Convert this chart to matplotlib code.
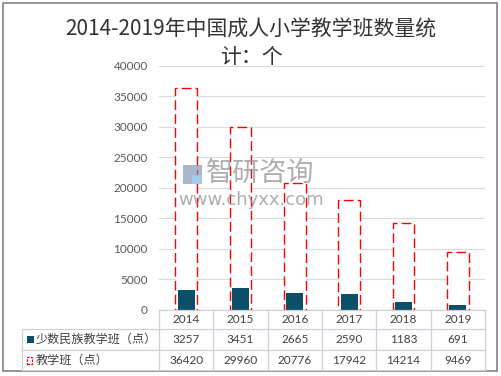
import matplotlib
matplotlib.use("Agg")
import matplotlib.pyplot as plt
from matplotlib.lines import Line2D
from matplotlib.patches import Rectangle

plt.rcParams['font.family'] = ['Noto Sans CJK SC', 'DejaVu Sans']

years = ['2014', '2015', '2016', '2017', '2018', '2019']
minority = [3257, 3451, 2665, 2590, 1183, 691]
classes = [36420, 29960, 20776, 17942, 14214, 9469]
series_names = ['少数民族教学班（点）', '教学班（点）']
title_lines = ['2014-2019年中国成人小学教学班数量统', '计：个']
yticks = [0, 5000, 10000, 15000, 20000, 25000, 30000, 35000, 40000]

W, H = 502, 376
fig = plt.figure(figsize=(W / 100, H / 100), dpi=100)


def fx(x):
    return x / W


def fy(y):
    return 1 - y / H


dark = '#0B5069'
red = '#FF0000'
grid = '#D9D9D9'
tcol = '#D0CFD8'
txt = '#404040'

# outer frame
fig.add_artist(Rectangle((fx(3), fy(371)), fx(494), 368 / H, transform=fig.transFigure,
                         fill=False, edgecolor='#808080', linewidth=1.2))

L, R, T, B = 159, 485, 66, 309.5
ax = fig.add_axes([fx(L), fy(B), fx(R - L), (B - T) / H])
x = list(range(len(years)))
ax.bar(x, classes, width=0.40, facecolor='white', edgecolor=red, linewidth=1.0,
       linestyle=(0, (7, 3)), zorder=2)
ax.bar(x, minority, width=0.31, color=dark, zorder=3)
ax.set_xlim(-0.5, len(years) - 0.5)
ax.set_ylim(0, 40000)
ax.set_yticks(yticks)
ax.set_yticklabels([str(v) for v in yticks], fontsize=8.5, color='#595959',
                   family=['Lato', 'DejaVu Sans'])
ax.tick_params(axis='y', length=0, pad=8)
ax.set_xticks([])
ax.yaxis.grid(True, color=grid, linewidth=0.8)
ax.set_axisbelow(True)
for s in ax.spines.values():
    s.set_visible(False)

# title (two lines)
fig.text(0.5, fy(30), title_lines[0], ha='center', va='center', fontsize=15, color='#333333')
fig.text(0.5, fy(57), title_lines[1], ha='center', va='center', fontsize=15, color='#333333')

# watermark
wm = '#8a8a8a'
fig.text(fx(260), fy(173), '智研咨询', ha='center', va='center', fontsize=19.5,
         color=wm, alpha=0.7)
fig.text(fx(251), fy(200), 'www.chyxx.com', ha='center', va='center', fontsize=13,
         color=wm, alpha=0.7, family=['DejaVu Sans'])
fig.add_artist(Rectangle((fx(183), fy(184)), fx(19), 19 / H, transform=fig.transFigure,
                         facecolor='#7d8fb0', edgecolor='none', alpha=0.65))
fig.add_artist(Rectangle((fx(192), fy(184)), fx(10), 9 / H, transform=fig.transFigure,
                         facecolor='#9fd0ea', edgecolor='none', alpha=0.9))


# data table
def hline(y, x0, x1):
    fig.add_artist(Line2D([fx(x0), fx(x1)], [fy(y), fy(y)], color=tcol, linewidth=0.9,
                          transform=fig.transFigure))


def vline(x0, y0, y1):
    fig.add_artist(Line2D([fx(x0), fx(x0)], [fy(y0), fy(y1)], color=tcol, linewidth=0.9,
                          transform=fig.transFigure))


cols = [L + (R - L) * i / len(years) for i in range(len(years) + 1)]
hline(310, L, R)
hline(329, 22, R)
hline(350, 22, R)
hline(370, 22, R)
vline(22, 329, 370)
for c in cols:
    vline(c, 310, 370)

num_font = ['Lato', 'DejaVu Sans']
for i, yr in enumerate(years):
    cx = (cols[i] + cols[i + 1]) / 2
    fig.text(fx(cx), fy(319.5), yr, ha='center', va='center', fontsize=8.5, color=txt,
             family=num_font)
    fig.text(fx(cx), fy(339.5), str(minority[i]), ha='center', va='center', fontsize=8.5,
             color=txt, family=num_font)
    fig.text(fx(cx), fy(360), str(classes[i]), ha='center', va='center', fontsize=8.5,
             color=txt, family=num_font)

# row labels with legend keys
fig.add_artist(Rectangle((fx(27), fy(343)), fx(7), 7 / H, transform=fig.transFigure,
                         facecolor=dark, edgecolor='none'))
fig.text(fx(36), fy(339.5), series_names[0], ha='left', va='center', fontsize=8.7, color=txt)
fig.add_artist(Rectangle((fx(27), fy(363.5)), fx(5), 7 / H, transform=fig.transFigure,
                         facecolor='white', edgecolor=red, linewidth=0.9,
                         linestyle=(0, (2, 1))))
fig.text(fx(36), fy(360), series_names[1], ha='left', va='center', fontsize=8.7, color=txt)

fig.savefig('out.png', dpi=100)
